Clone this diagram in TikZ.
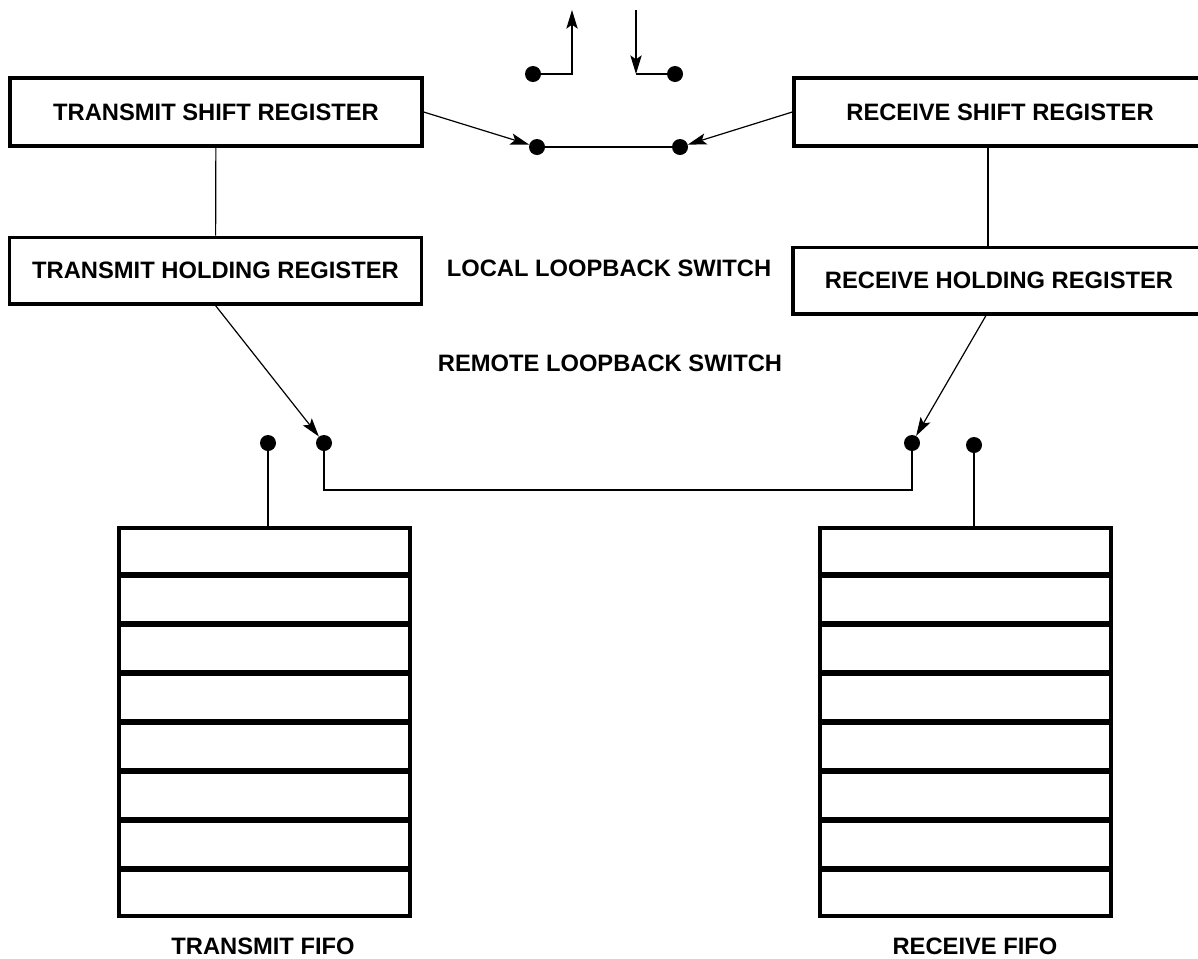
\documentclass[tikz,border=0pt]{standalone}
\usepackage{fontspec}
\setmainfont{Liberation Sans}
\usepackage{tikz}
\usetikzlibrary{arrows.meta,calc}

\tikzset{
  regbox/.style={draw,line width=2.5pt,minimum width=309pt,minimum height=51pt,inner sep=0pt,font=\bfseries\fontsize{17.8}{20}\selectfont},
  fifobox/.style={draw,line width=2.5pt,minimum width=218.25pt,minimum height=291pt,inner sep=0pt},
  pin/.style={circle,fill,inner sep=0pt,minimum size=12pt},
  wire/.style={line width=0.9pt},
  arrw/.style={wire,-{Stealth[length=14pt,width=8.5pt,inset=3pt]}},
  divider/.style={line width=4.5pt},
  lbl/.style={font=\bfseries\fontsize{17.8}{20}\selectfont,inner sep=0.75pt}
}

\begin{document}
\begin{tikzpicture}[x=0.75pt,y=0.75pt,yscale=-1,xscale=1]
    \useasboundingbox (0,0) rectangle (1198,958);

    %Registers
    \node (tsr) [regbox] at (216,112) {TRANSMIT SHIFT REGISTER};
    \node (thr) [regbox,minimum height=50pt] at (215.5,270.5) {TRANSMIT HOLDING REGISTER};
    \node (rxsr) [regbox] at (1000,112) {RECEIVE SHIFT REGISTER};
    \node (rxhr) [regbox,minimum height=50pt] at (999,280.5) {RECEIVE HOLDING REGISTER};

    %Switch contacts
    \node (locA) [pin] at (533,74) {};
    \node (locB) [pin] at (675,74) {};
    \node (locC) [pin] at (537,147) {};
    \node (locD) [pin] at (680,147) {};
    \node (remA) [pin] at (268,443) {};
    \node (remB) [pin] at (324,443) {};
    \node (remC) [pin] at (912,443) {};
    \node (remD) [pin] at (974,445) {};
    \coordinate (txout) at (572,10);
    \coordinate (rxin) at (636,10);

    %FIFOs
    \node (txfifo) [fifobox] at (264.5,722) {};
    \node (rxfifo) [fifobox] at (965.5,722) {};
    \foreach \f in {txfifo,rxfifo}
      \foreach \i in {1,...,7}
        \draw [divider] ($(\f.north west)!\i/8!(\f.south west)$) -- ($(\f.north east)!\i/8!(\f.south east)$);

    % Text Node
    \node (loclbl) [lbl] at (609,268) {LOCAL LOOPBACK SWITCH};
    % Text Node
    \node (remlbl) [lbl] at (610,363) {REMOTE LOOPBACK SWITCH};
    % Text Node
    \node (txlbl) [lbl] at (263,946) {TRANSMIT FIFO};
    % Text Node
    \node (rxlbl) [lbl] at (975,946) {RECEIVE FIFO};

    %Lines
    \draw [wire] (tsr) -- (thr);
    \draw [wire] ([xshift=-9pt]rxsr.south) -- ([xshift=-9pt]rxsr.south |- rxhr.north);
    \draw [arrw] (tsr.east) -- (locC);
    \draw [arrw] (rxsr.west) -- (locD);
    \draw [wire] (locC) -- (locD);
    \draw [arrw] (locA) -| (txout);
    \draw [arrw] (rxin) -- (rxin |- locB);
    \draw [wire] (rxin |- locB) -- (locB);
    \draw [arrw] (thr.south) -- (remB);
    \draw [arrw] ([xshift=-9.75pt]rxhr.south) -- (remC);
    \draw [wire] (remB) -- ++(0,47) -| (remC);
    \draw [wire] (remA) -- (remA |- txfifo.north);
    \draw [wire] (remD) -- (remD |- rxfifo.north);
\end{tikzpicture}
\end{document}
